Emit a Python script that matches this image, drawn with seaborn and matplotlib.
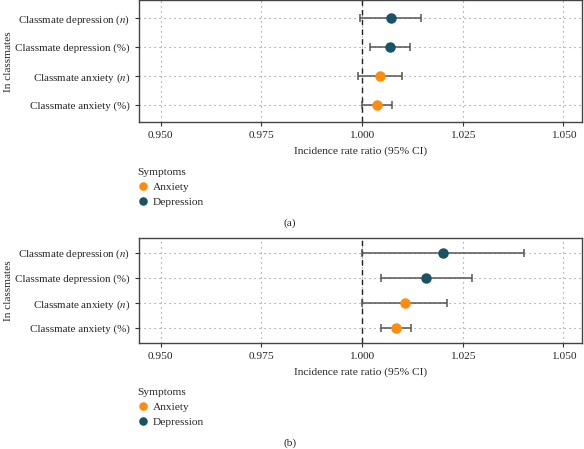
import matplotlib
matplotlib.use("Agg")
import matplotlib.pyplot as plt
import seaborn as sns
import pandas as pd

# rows, top to bottom
labels = ["Classmate depression (n)", "Classmate depression (%)",
          "Classmate anxiety (n)", "Classmate anxiety (%)"]
symptoms = ["Depression", "Depression", "Anxiety", "Anxiety"]

# panel (a)
irr_a = [1.0071, 1.0070, 1.0045, 1.0037]
lo_a = [0.9996, 1.0020, 0.9989, 1.0000]
hi_a = [1.0146, 1.0120, 1.0099, 1.0075]

# panel (b)
irr_b = [1.0200, 1.0159, 1.0107, 1.0085]
lo_b = [0.9999, 1.0048, 1.0000, 1.0048]
hi_b = [1.0402, 1.0273, 1.0212, 1.0122]

xticks = [0.950, 0.975, 1.000, 1.025, 1.050]
palette = {"Anxiety": "#FF8C0F", "Depression": "#1B5366"}

sns.set_style("white")
plt.rcParams["font.family"] = ["Liberation Serif", "DejaVu Serif"]
plt.rcParams["mathtext.fontset"] = "stix"

tick_labels = [l.replace("(n)", "($n$)") for l in labels]
FS = 8.2

fig = plt.figure(figsize=(5.84, 4.49), dpi=100)
W, H = 584, 449
ax1 = fig.add_axes([139 / W, 1 - 122.3 / H, 442.5 / W, 122 / H])
ax2 = fig.add_axes([139 / W, 1 - 343.3 / H, 442.5 / W, 105.8 / H])


def draw(ax, irr, lo, hi, caption, cap_y, leg_y):
    df = pd.DataFrame({"label": labels, "irr": irr, "lo": lo, "hi": hi,
                       "Symptoms": symptoms})
    pos = list(range(len(labels)))
    ax.errorbar(df["irr"], pos,
                xerr=[df["irr"] - df["lo"], df["hi"] - df["irr"]],
                fmt="none", ecolor="#555555", elinewidth=1.1, capsize=3,
                capthick=1.1, zorder=2)
    sns.pointplot(data=df, x="irr", y="label", hue="Symptoms", order=labels,
                  hue_order=["Anxiety", "Depression"], palette=palette,
                  linestyle="none", markers="o", markersize=5.5, errorbar=None,
                  ax=ax, zorder=3)
    ax.axvline(1.0, color="#222222", linestyle=(0, (4, 3)), linewidth=1, zorder=1)
    ax.set_axisbelow(True)
    ax.grid(True, which="major", axis="both", linestyle=(0, (1, 3.5)),
            color="#8a8a8a", linewidth=0.8)
    ax.set_xlim(0.9446, 1.0545)
    ax.set_ylim(3.6, -0.6)
    ax.set_xticks(xticks)
    ax.set_xticklabels([f"{t:.3f}" for t in xticks])
    ax.set_yticks(pos)
    ax.set_yticklabels(tick_labels)
    ax.set_xlabel("Incidence rate ratio (95% CI)", fontsize=FS, labelpad=4.5)
    ax.set_ylabel("In classmates", fontsize=FS)
    ax.yaxis.set_label_coords(-0.285, 0.5)
    ax.tick_params(axis="x", labelsize=FS, length=3, width=0.8,
                   color="#333333", bottom=True)
    ax.tick_params(axis="y", labelsize=7.9, length=3, width=0.8,
                   color="#333333", left=True)
    for s in ax.spines.values():
        s.set_color("#444444")
        s.set_linewidth(1)
    sns.move_legend(ax, "upper left", bbox_to_anchor=(137 / W, 1 - leg_y / H),
                    bbox_transform=fig.transFigure, frameon=False,
                    title="Symptoms", fontsize=FS, title_fontsize=FS,
                    alignment="left", borderaxespad=0, borderpad=0,
                    handletextpad=0.4, handlelength=1.0, labelspacing=0.45,
                    markerscale=0.75)
    fig.text(290 / W, 1 - cap_y / H, caption, ha="center", va="center",
             fontsize=FS)


draw(ax1, irr_a, lo_a, hi_a, "(a)", 222.7, 168)
draw(ax2, irr_b, lo_b, hi_b, "(b)", 443.3, 388)

fig.savefig("out.png", dpi=100)
